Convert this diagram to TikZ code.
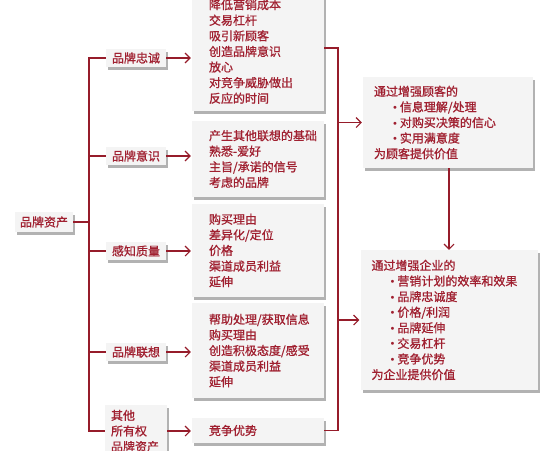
\documentclass[tikz,border=0pt]{standalone}
\usepackage{fontspec}
\usepackage{xcolor}
\usetikzlibrary{arrows.meta,shadows}

\newfontfamily\cjk{Noto Sans CJK SC}[FakeBold=0.9]
\newfontfamily\dotfont{DejaVu Sans}
\definecolor{brandred}{RGB}{160,32,48}
\definecolor{linkred}{RGB}{150,28,42}
\definecolor{cardgray}{RGB}{244,244,244}

\newcommand{\cardlines}[3]{\hspace*{#1}\parbox{#2}{#3}}
\newcommand{\bitem}{\hspace*{18pt}{\dotfont\fontsize{10}{15.6}\selectfont •}\hspace{2pt}}

\begin{document}
\begin{tikzpicture}[x=1pt, y=-1pt,
		every node/.style = {font=\cjk\fontsize{12}{15.6}\selectfont, text=brandred},
		tag/.style  = {fill=cardgray, inner sep=2pt, minimum height=18pt,
			drop shadow={shadow xshift=2pt, shadow yshift=-2.5pt, fill=black!55, opacity=.55}},
		card/.style = {tag, inner sep=2pt},
		link/.style = {draw=linkred, line width=1.1pt},
		arr/.style  = {link, -{Straight Barb[length=5pt, width=10pt, line width=1.1pt]}}]
				%\draw[help lines] (0,0) grid[step=50] (557,450);
				\useasboundingbox (0,0) rectangle (557,450);
				
				\node[tag, minimum width=58pt, minimum height=20pt] (root) at (44,222) {品牌资产};
				
				\node[tag, minimum width=60pt] (lbl1) at (136,58) {品牌忠诚};
				\node[tag, minimum width=60pt] (lbl2) at (136,156) {品牌意识};
				\node[tag, minimum width=60pt] (lbl3) at (136,251) {感知质量};
				\node[tag, minimum width=60pt] (lbl4) at (136,352) {品牌联想};
				\node[tag, minimum height=52pt] (lbl5) at (136,431) {\cardlines{4pt}{54pt}{其他\\所有权\\品牌资产}};
				
				\node[card, minimum height=119pt] (box1) at (258,51.5)
					{\cardlines{15pt}{113pt}{降低营销成本\\交易杠杆\\吸引新顾客\\创造品牌意识\\放心\\对竞争威胁做出\\反应的时间}};
				\node[card, minimum height=76pt] (box2) at (258,159)
					{\cardlines{15pt}{113pt}{产生其他联想的基础\\熟悉-爱好\\主旨/承诺的信号\\考虑的品牌}};
				\node[card, minimum height=93pt] (box3) at (258,250.5)
					{\cardlines{15pt}{113pt}{购买理由\\差异化/定位\\价格\\渠道成员利益\\延伸}};
				\node[card, minimum height=95pt] (box4) at (258,350.5)
					{\cardlines{15pt}{113pt}{帮助处理/获取信息\\购买理由\\创造积极态度/感受\\渠道成员利益\\延伸}};
				\node[card, minimum height=25pt] (box5) at (258,430.5)
					{\cardlines{15pt}{113pt}{竞争优势}};
				
				\node[card, minimum height=91pt] (cust) at (448,122.5)
					{\cardlines{9pt}{157pt}{通过增强顾客的\\\bitem 信息理解/处理\\\bitem 对购买决策的信心\\\bitem 实用满意度\\为顾客提供价值}};
				\node[card, minimum height=140pt] (firm) at (449,320)
					{\cardlines{9pt}{164pt}{通过增强企业的\\\bitem 营销计划的效率和效果\\\bitem 品牌忠诚度\\\bitem 价格/利润\\\bitem 品牌延伸\\\bitem 交易杠杆\\\bitem 竞争优势\\为企业提供价值}};
				
				% left tree
				\coordinate (ltrunk) at (89,0);
				\draw[link] (root.east) -- (root.east -| ltrunk);
				\draw[link] (lbl1.west) -- (lbl1.west -| ltrunk) -- (lbl5.west -| ltrunk) -- (lbl5.west);
				\foreach \n in {2,3,4}
					\draw[link] (lbl\n.west) -- (lbl\n.west -| ltrunk);
				\foreach \n in {1,...,5}
					\draw[arr] (lbl\n.east) -- ([xshift=-1pt]lbl\n.east -| box\n.west);
				
				% right side
				\coordinate (rtrunk) at (338,0);
				\draw[link] ([yshift=3.5pt]box1.east) -- ([yshift=3.5pt]box1.east -| rtrunk) -- (box5.east -| rtrunk) -- (box5.east);
				\draw[arr] (cust.west -| rtrunk) -- ([xshift=-1pt]cust.west);
				\draw[arr] (firm.west -| rtrunk) -- ([xshift=-1pt]firm.west);
				\draw[arr] (cust.south -| firm.north) -- (firm.north);
			\end{tikzpicture}
\end{document}
